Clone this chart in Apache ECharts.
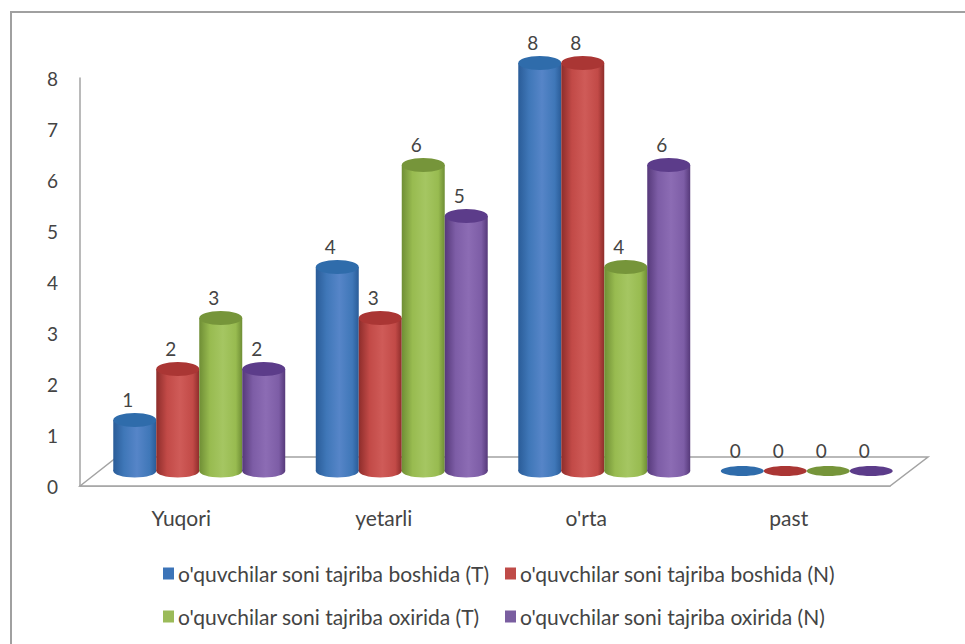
<!DOCTYPE html>
<html>
<head>
<meta charset="utf-8">
<style>
  html, body { margin: 0; padding: 0; background: #fff; }
  #chart { width: 965px; height: 644px; }
</style>
<script src="https://cdn.jsdelivr.net/npm/echarts@6/dist/echarts.min.js"></script>
</head>
<body>
<div id="chart"></div>
<script>
const categories = ["Yuqori", "yetarli", "o'rta", "past"]
const startT = [1, 4, 8, 0]
const startN = [2, 3, 8, 0]
const endT = [3, 6, 4, 0]
const endN = [2, 5, 6, 0]
const yTicks = [0, 1, 2, 3, 4, 5, 6, 7, 8]

const FONT = 'Lato, "Open Sans", sans-serif'
const TEXT = "#444"
const LINE = "#a3a3a3"
// 柱体相对坐标轴的 3D 偏移
const DEPTH_X = 18
const DEPTH_Y = 15
const FLOOR_X = 37
const FLOOR_Y = 29

const chart = echarts.init(document.getElementById("chart"), null, { renderer: "svg" })

function bodyGradient(c) {
  return new echarts.graphic.LinearGradient(0, 0, 1, 0, [
    { offset: 0, color: c.edge },
    { offset: 0.25, color: c.base },
    { offset: 0.55, color: c.light },
    { offset: 0.85, color: c.base },
    { offset: 1, color: c.edge }
  ])
}

// 圆柱：底面椭圆 + 柱身 + 顶面椭圆 + 数值
function cylinder(index, c) {
  return (params, api) => {
    const value = api.value(1)
    const base = api.coord([api.value(0), 0])
    const top = api.coord([api.value(0), value])
    const w = api.size([1, 0])[0] * 0.2123
    const cx = base[0] + DEPTH_X + (index - 1.5) * w
    const yBase = base[1] - DEPTH_Y
    const yTop = top[1] - DEPTH_Y
    const rx = w / 2
    const fill = bodyGradient(c)
    const children = []
    if (value > 0) {
      children.push(
        { type: "ellipse", shape: { cx, cy: yBase, rx, ry: 6.5 }, style: { fill } },
        { type: "rect", shape: { x: cx - rx, y: yTop, width: w, height: yBase - yTop }, style: { fill } }
      )
    }
    children.push(
      { type: "ellipse", shape: { cx, cy: yTop, rx, ry: value > 0 ? 7 : 5 }, style: { fill: c.top } },
      {
        type: "text",
        style: {
          text: String(value),
          x: cx - 7,
          y: yTop - 21,
          align: "center",
          verticalAlign: "middle",
          fill: TEXT,
          font: "19px " + FONT
        }
      }
    )
    return { type: "group", children }
  }
}

function makeSeries(name, values, index, c) {
  return {
    name,
    type: "custom",
    coordinateSystem: "cartesian2d",
    itemStyle: { color: c.legend },
    encode: { x: 0, y: 1 },
    data: values.map((v, i) => [i, v]),
    renderItem: cylinder(index, c),
    z: 3 + index
  }
}

// 底板平行四边形
const floorSeries = {
  type: "custom",
  coordinateSystem: "cartesian2d",
  silent: true,
  data: [[0, 0]],
  encode: { x: 0, y: 1 },
  z: 1,
  renderItem(params) {
    const g = params.coordSys
    const bottom = g.y + g.height
    return {
      type: "polygon",
      shape: {
        points: [
          [g.x, bottom],
          [g.x + FLOOR_X, bottom - FLOOR_Y],
          [g.x + g.width + FLOOR_X + 1, bottom - FLOOR_Y],
          [g.x + g.width, bottom]
        ]
      },
      style: { fill: "#fff", stroke: LINE, lineWidth: 1.5 }
    }
  }
}

const blue = { edge: "#2a5c98", base: "#3f77b8", light: "#5685c8", top: "#2f6cab", legend: "#3c74b8" }
const red = { edge: "#8e2d2b", base: "#c24a47", light: "#cf5b58", top: "#aa3634", legend: "#bf4b48" }
const green = { edge: "#6f8e35", base: "#98bb50", light: "#a5c662", top: "#76953a", legend: "#9bbb59" }
const purple = { edge: "#56397a", base: "#7d5da6", light: "#8c6cb4", top: "#5c3c8a", legend: "#7a5ea0" }

const seriesNames = [
  "o'quvchilar soni tajriba boshida (T)",
  "o'quvchilar soni tajriba boshida (N)",
  "o'quvchilar soni tajriba oxirida (T)",
  "o'quvchilar soni tajriba oxirida (N)"
]

function legendColumn(left, data) {
  return {
    left,
    top: 563,
    padding: 0,
    orient: "vertical",
    itemWidth: 11,
    itemHeight: 12,
    itemGap: 22,
    icon: "rect",
    selectedMode: false,
    data,
    textStyle: { fontFamily: FONT, fontSize: 21, color: TEXT, padding: [0, 0, 0, -1] }
  }
}

chart.setOption({
  animation: false,
  backgroundColor: "#fff",
  graphic: [{
    type: "polyline",
    shape: { points: [[11, 644], [11, 12], [965, 12]] },
    style: { fill: "none", stroke: "#a0a0a0", lineWidth: 2 },
    z: -1
  }],
  legend: [
    legendColumn(163, [seriesNames[0], seriesNames[2]]),
    legendColumn(505, [seriesNames[1], seriesNames[3]])
  ],
  grid: { left: 80, right: 75, top: 78, bottom: 158 },
  xAxis: {
    type: "category",
    data: categories,
    axisTick: { show: false },
    axisLine: { lineStyle: { color: LINE, width: 1.5 } },
    axisLabel: { margin: 21, fontFamily: FONT, fontSize: 21, color: TEXT }
  },
  yAxis: {
    type: "value",
    min: yTicks[0],
    max: yTicks[yTicks.length - 1],
    interval: 1,
    splitLine: { show: false },
    axisTick: { show: false },
    axisLine: { show: true, lineStyle: { color: LINE, width: 1.5 } },
    axisLabel: { margin: 22, fontFamily: FONT, fontSize: 19, color: TEXT }
  },
  series: [
    floorSeries,
    makeSeries(seriesNames[0], startT, 0, blue),
    makeSeries(seriesNames[1], startN, 1, red),
    makeSeries(seriesNames[2], endT, 2, green),
    makeSeries(seriesNames[3], endN, 3, purple)
  ]
})
</script>
</body>
</html>
